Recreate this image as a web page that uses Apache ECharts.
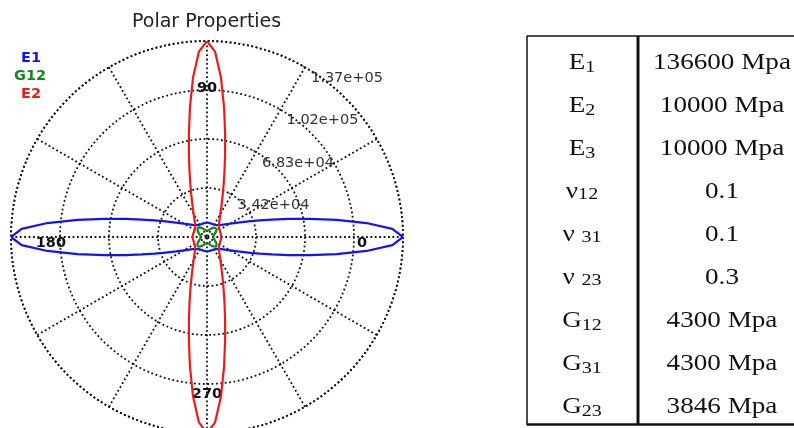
<!DOCTYPE html>
<html>
<head>
<meta charset="utf-8">
<title>Polar Properties</title>
<script src="https://cdn.jsdelivr.net/npm/echarts@6/dist/echarts.min.js"></script>
<style>
  html, body { margin: 0; padding: 0; background: #ffffff; }
  #chart { width: 794px; height: 428px; }
</style>
</head>
<body>
<div id="chart"></div>
<script>
// ---- Chart data -------------------------------------------------------
const chartTitle = 'Polar Properties';
const seriesNames = ['E1', 'G12', 'E2'];
const seriesColors = ['#1414f0', '#14861a', '#ee1b1b'];

// Angles (degrees) of one quadrant; the other three quadrants mirror it.
const quadrantAngles = [0, 2.5, 5, 7.5, 10, 12.5, 15, 17.5, 20,
  25, 30, 35, 40, 45, 50, 55, 60, 65,
  70, 72.5, 75, 77.5, 80, 82.5, 85, 87.5, 90];
// Directional moduli (Mpa) at those angles.
const e1Quadrant = [136600, 129300, 111600, 91100, 72800, 58200, 47000, 38600, 32300,
  23800, 18600, 15400, 13200, 11800, 10900, 10300, 10000, 9840,
  9810, 9820, 9850, 9880, 9920, 9950, 9980, 9995, 10000];
const g12Quadrant = [4300, 4320, 4370, 4460, 4590, 4750, 4960, 5210, 5510,
  6250, 7160, 8110, 8890, 9190, 8890, 8110, 7160, 6250,
  5510, 5210, 4960, 4750, 4590, 4460, 4370, 4320, 4300];
const e2Quadrant = [10000, 9995, 9980, 9950, 9920, 9880, 9850, 9820, 9810,
  9840, 10000, 10300, 10900, 11800, 13200, 15400, 18600, 23800,
  32300, 38600, 47000, 58200, 72800, 91100, 111600, 129300, 136600];

// Radial scale and angular labels
const radiusMax = 136600;
const radiusStep = 34150;
const angleLabels = [0, 90, 180, 270];

// Material property table
const propSymbols = ['E', 'E', 'E', 'ν', 'ν ', 'ν ', 'G', 'G', 'G'];
const propSubscripts = ['1', '2', '3', '12', '31', '23', '12', '31', '23'];
const propValues = ['136600 Mpa', '10000 Mpa', '10000 Mpa', '0.1', '0.1', '0.3',
  '4300 Mpa', '4300 Mpa', '3846 Mpa'];

// ---- Helpers ----------------------------------------------------------
// The angle axis runs from 60 to 420 so the radius axis (and its labels)
// sits on the 60° spoke; angles below 60 are expressed as angle + 360.
const ANGLE_MIN = 60;

function buildCurve(values) {
  const n = quadrantAngles.length;
  const pts = [];
  for (let q = 0; q < 4; q++) {
    for (let j = 0; j < n; j++) {
      if (q > 0 && j === 0) continue;
      const i = q % 2 === 0 ? j : n - 1 - j;
      const angle = q * 90 + (q % 2 === 0 ? quadrantAngles[i] : 90 - quadrantAngles[i]);
      const a = angle < ANGLE_MIN ? angle + 360 : angle;
      pts.push([values[i], a]);
    }
  }
  return pts;
}

function sciLabel(v) {
  if (v === 0) return '';
  const parts = v.toExponential(2).split('e');
  const sign = parts[1][0];
  const exp = parts[1].slice(1).padStart(2, '0');
  return parts[0] + 'e' + sign + exp;
}

const gridLine = { color: '#111', width: 1.8, type: [1.8, 2.6] };
const chartFont = 'DejaVu Sans';
const tableFont = 'Liberation Serif';

// ---- Table graphics ---------------------------------------------------
const tableLeft = 527, tableRight = 794, tableTop = 36, tableBottom = 425;
const dividerX = 638;
const firstRowY = 63, rowStep = 43;
const symbolColX = 582, valueColX = 722;

const tableElements = [
  { type: 'line', shape: { x1: tableLeft, y1: tableTop, x2: tableRight, y2: tableTop },
    style: { stroke: '#111', lineWidth: 1.5 } },
  { type: 'line', shape: { x1: tableLeft, y1: tableTop, x2: tableLeft, y2: tableBottom },
    style: { stroke: '#111', lineWidth: 1.5 } },
  { type: 'line', shape: { x1: dividerX, y1: tableTop, x2: dividerX, y2: tableBottom },
    style: { stroke: '#111', lineWidth: 3 } },
  { type: 'line', shape: { x1: tableLeft, y1: tableBottom - 0.5, x2: tableRight, y2: tableBottom - 0.5 },
    style: { stroke: '#111', lineWidth: 2.5 } }
];

propSymbols.forEach(function (sym, i) {
  const y = firstRowY + i * rowStep;
  const isNu = sym.trim() === 'ν';
  tableElements.push({
    type: 'text', x: symbolColX, y: y, scaleX: 1.18,
    style: {
      text: '{m|' + sym + '}{' + (isNu ? 'n' : 's') + '|' + propSubscripts[i] + '}',
      align: 'center', verticalAlign: 'middle', fill: '#111',
      fontFamily: tableFont, fontSize: 23,
      rich: {
        m: { fontFamily: tableFont, fontSize: 23, fill: '#111', verticalAlign: 'middle' },
        s: { fontFamily: tableFont, fontSize: 17, fill: '#111', verticalAlign: 'middle', padding: [9, 0, 0, 0] },
        n: { fontFamily: tableFont, fontSize: 17, fill: '#111', verticalAlign: 'middle', padding: [6, 0, 0, 0] }
      }
    }
  });
  tableElements.push({
    type: 'text', x: valueColX, y: y, scaleX: 1.18,
    style: {
      text: propValues[i], align: 'center', verticalAlign: 'middle',
      fill: '#111', fontFamily: tableFont, fontSize: 23
    }
  });
});

// ---- Chart ------------------------------------------------------------
const chart = echarts.init(document.getElementById('chart'), null, { renderer: 'canvas' });

const option = {
  animation: false,
  backgroundColor: '#ffffff',
  title: {
    text: chartTitle, left: 132, top: 13, padding: 0,
    textStyle: { fontFamily: chartFont, fontWeight: 'normal', fontSize: 19, color: '#222' }
  },
  legend: {
    orient: 'vertical', left: 9, top: 49, padding: 0,
    itemWidth: 0, itemHeight: 18, itemGap: 0, selectedMode: false,
    icon: 'rect',
    textStyle: { fontFamily: chartFont, fontWeight: 'bold', fontSize: 14.5 },
    data: [
      { name: seriesNames[0], textStyle: { color: seriesColors[0], padding: [0, 0, 0, 7] } },
      { name: seriesNames[1], textStyle: { color: seriesColors[1] } },
      { name: seriesNames[2], textStyle: { color: seriesColors[2], padding: [0, 0, 0, 7] } }
    ]
  },
  polar: { center: [207, 237], radius: 196 },
  angleAxis: {
    type: 'value', min: ANGLE_MIN, max: ANGLE_MIN + 360, interval: 30,
    startAngle: ANGLE_MIN, clockwise: false,
    axisLine: { show: true, lineStyle: gridLine },
    axisTick: { show: false },
    splitLine: { show: true, lineStyle: gridLine },
    axisLabel: {
      margin: -55, color: '#111',
      fontFamily: chartFont, fontWeight: 'bold', fontSize: 14.5,
      formatter: function (v) {
        const d = v % 360;
        if (angleLabels.indexOf(d) < 0 || v === ANGLE_MIN + 360) return '';
        if (d === 0) return '{r|' + d + '}';
        if (d === 180) return '{l|' + d + '}';
        if (d === 270) return '{b|' + d + '}';
        return '{t|' + d + '}';
      },
      rich: {
        r: { fontFamily: chartFont, fontWeight: 'bold', fontSize: 14.5, color: '#111', padding: [12, 0, 0, 9] },
        l: { fontFamily: chartFont, fontWeight: 'bold', fontSize: 14.5, color: '#111', padding: [12, 0, 0, 0] },
        b: { fontFamily: chartFont, fontWeight: 'bold', fontSize: 14.5, color: '#111', padding: [9, 0, 0, 0] },
        t: { fontFamily: chartFont, fontWeight: 'bold', fontSize: 14.5, color: '#111' }
      }
    }
  },
  radiusAxis: {
    type: 'value', min: 0, max: radiusMax, interval: radiusStep,
    axisLine: { show: false },
    axisTick: { show: true, length: 4, lineStyle: { color: '#333', width: 1 } },
    splitLine: { show: true, lineStyle: gridLine },
    axisLabel: {
      show: true, margin: -7, align: 'left', verticalAlign: 'top',
      color: '#333', fontFamily: chartFont, fontSize: 14.5,
      formatter: sciLabel
    }
  },
  series: [
    { name: seriesNames[0], type: 'line', coordinateSystem: 'polar', data: buildCurve(e1Quadrant),
      showSymbol: false, symbol: 'none', lineStyle: { color: seriesColors[0], width: 2.2 },
      itemStyle: { color: seriesColors[0] }, z: 3 },
    { name: seriesNames[1], type: 'line', coordinateSystem: 'polar', data: buildCurve(g12Quadrant),
      showSymbol: false, symbol: 'none', lineStyle: { color: seriesColors[1], width: 2.2 },
      itemStyle: { color: seriesColors[1] }, z: 4 },
    { name: seriesNames[2], type: 'line', coordinateSystem: 'polar', data: buildCurve(e2Quadrant),
      showSymbol: false, symbol: 'none', lineStyle: { color: seriesColors[2], width: 2.2 },
      itemStyle: { color: seriesColors[2] }, z: 3 }
  ],
  graphic: { elements: tableElements }
};

chart.setOption(option);
</script>
</body>
</html>
